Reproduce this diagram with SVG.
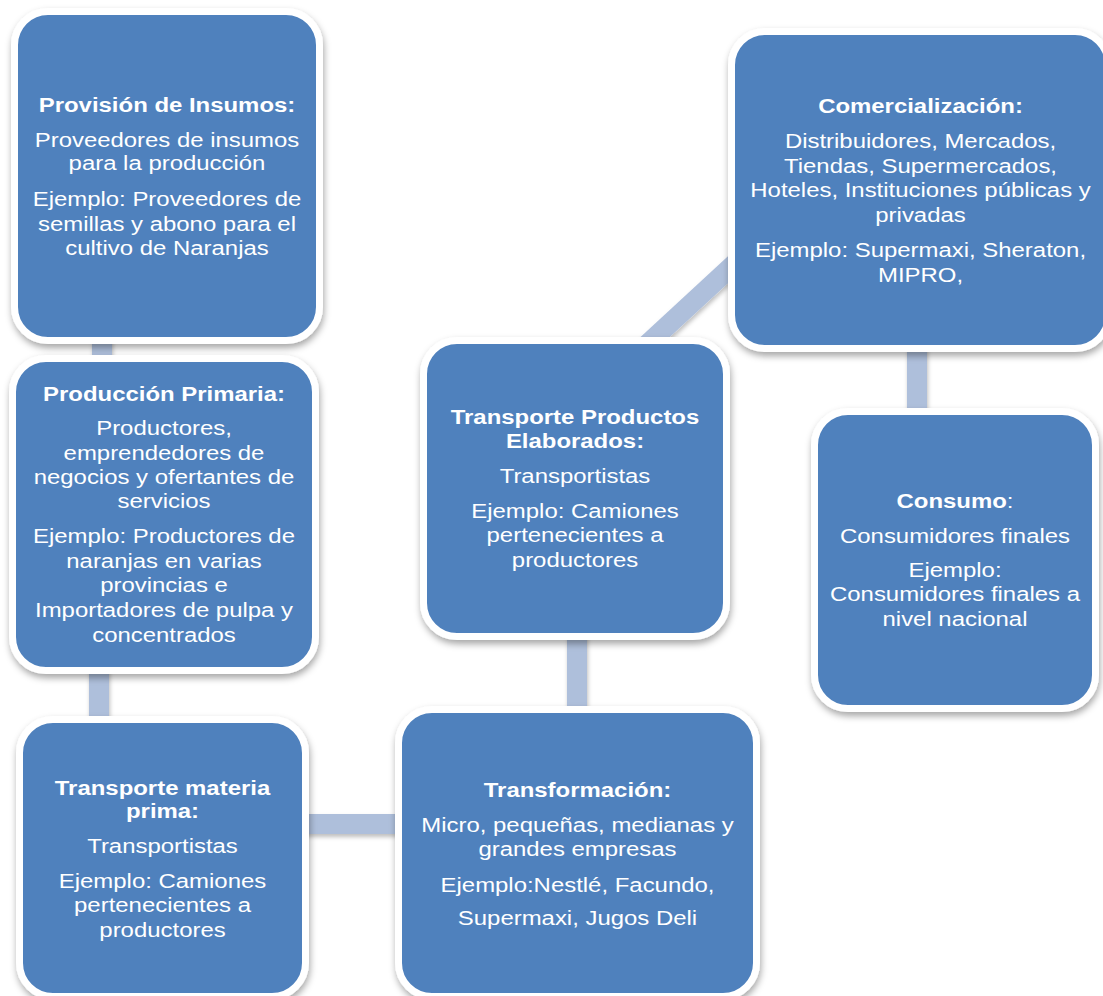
<svg xmlns="http://www.w3.org/2000/svg" width="1103" height="996" viewBox="0 0 1103 996">
<defs>
<filter id="sh" x="-10%" y="-10%" width="125%" height="125%">
<feDropShadow dx="1" dy="4" stdDeviation="3.5" flood-color="#000" flood-opacity="0.35"/>
</filter>
<filter id="shc" filterUnits="userSpaceOnUse" x="0" y="0" width="1103" height="996">
<feDropShadow dx="1" dy="3" stdDeviation="2" flood-color="#000" flood-opacity="0.25"/>
</filter>
<style>
.box{fill:#4F81BD;stroke:#FFFFFF;stroke-width:7;filter:url(#sh)}
.con{stroke:#AEBFDB;stroke-width:20;fill:none;filter:url(#shc)}
text{font-family:"Liberation Sans",Arial,sans-serif;fill:#FFFFFF;text-anchor:middle;font-size:21px}
.t{font-weight:bold}
</style>
</defs>
<rect width="1103" height="996" fill="#FFFFFF"/>
<g id="connectors">
<line class="con" x1="102" y1="330" x2="102" y2="372"/>
<line class="con" x1="99" y1="660" x2="99" y2="732"/>
<line class="con" x1="295" y1="824" x2="410" y2="824"/>
<line class="con" x1="577" y1="628" x2="577" y2="722"/>
<line class="con" x1="640" y1="351" x2="745" y2="254"/>
<line class="con" x1="917" y1="340" x2="917" y2="424"/>
</g>
<g id="n1">
<rect class="box" x="14.5" y="11.5" width="305" height="329" rx="33.5"/>
<g transform="translate(167 0) scale(1.14 1)">
<text class="t" y="112">Provisión de Insumos:</text>
<text y="147">Proveedores de insumos</text>
<text y="170">para la producción</text>
<text y="206">Ejemplo: Proveedores de</text>
<text y="231">semillas y abono para el</text>
<text y="255">cultivo de Naranjas</text>
</g>
</g>
<g id="n2">
<rect class="box" x="12.5" y="358.5" width="303" height="312" rx="33.5"/>
<g transform="translate(164 0) scale(1.14 1)">
<text class="t" y="401">Producción Primaria:</text>
<text y="435">Productores,</text>
<text y="460">emprendedores de</text>
<text y="484">negocios y ofertantes de</text>
<text y="508">servicios</text>
<text y="543">Ejemplo: Productores de</text>
<text y="568">naranjas en varias</text>
<text y="592">provincias e</text>
<text y="617">Importadores de pulpa y</text>
<text y="642">concentrados</text>
</g>
</g>
<g id="n3">
<rect class="box" x="19.5" y="719.5" width="286" height="277" rx="33.5"/>
<g transform="translate(162.5 0) scale(1.14 1)">
<text class="t" y="795">Transporte materia</text>
<text class="t" y="818">prima:</text>
<text y="853">Transportistas</text>
<text y="888">Ejemplo: Camiones</text>
<text y="912">pertenecientes a</text>
<text y="937">productores</text>
</g>
</g>
<g id="n4">
<rect class="box" x="398.5" y="709.5" width="358" height="287" rx="33.5"/>
<g transform="translate(577.5 0) scale(1.14 1)">
<text class="t" y="797">Transformación:</text>
<text y="832">Micro, pequeñas, medianas y</text>
<text y="856">grandes empresas</text>
<text y="892">Ejemplo:Nestlé, Facundo,</text>
<text y="925">Supermaxi, Jugos Deli</text>
</g>
</g>
<g id="n5">
<rect class="box" x="423.5" y="340.5" width="303" height="296" rx="33.5"/>
<g transform="translate(575 0) scale(1.14 1)">
<text class="t" y="424">Transporte Productos</text>
<text class="t" y="448">Elaborados:</text>
<text y="483">Transportistas</text>
<text y="518">Ejemplo: Camiones</text>
<text y="542">pertenecientes a</text>
<text y="567">productores</text>
</g>
</g>
<g id="n6">
<rect class="box" x="731.5" y="31.5" width="377" height="317" rx="33.5"/>
<g transform="translate(920.5 0) scale(1.14 1)">
<text class="t" y="113">Comercialización:</text>
<text y="148">Distribuidores, Mercados,</text>
<text y="173">Tiendas, Supermercados,</text>
<text y="197">Hoteles, Instituciones públicas y</text>
<text y="222">privadas</text>
<text y="257">Ejemplo: Supermaxi, Sheraton,</text>
<text y="282">MIPRO,</text>
</g>
</g>
<g id="n7">
<rect class="box" x="814.5" y="411.5" width="281" height="297" rx="33.5"/>
<g transform="translate(955 0) scale(1.14 1)">
<text y="508"><tspan class="t">Consumo</tspan>:</text>
<text y="543">Consumidores finales</text>
<text y="577">Ejemplo:</text>
<text y="601">Consumidores finales a</text>
<text y="626">nivel nacional</text>
</g>
</g>
</svg>
